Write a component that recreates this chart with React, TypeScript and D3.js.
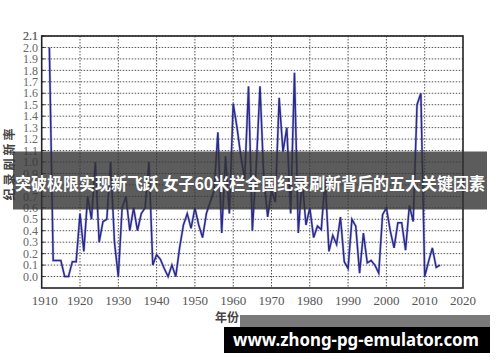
import React from "react";
import * as d3 from "d3";

const years: number[] = d3.range(1912, 2015);
const rates: number[] = [
  2.0, 0.14, 0.14, 0.14, 0.0, 0.0, 0.13, 0.13, 0.55, 0.22,
  0.7, 0.5, 1.0, 0.3, 0.48, 0.5, 1.0, 0.3, 0.0, 0.6,
  0.7, 0.4, 0.6, 0.4, 0.55, 0.6, 1.0, 0.1, 0.19, 0.15,
  0.07, 0.0, 0.1, 0.0, 0.25, 0.45, 0.55, 0.42, 0.6, 0.45,
  0.34, 0.55, 0.65, 0.75, 1.26, 0.38, 1.05, 0.55, 1.51, 1.3,
  1.05, 0.85, 1.66, 0.4, 0.95, 1.66, 0.85, 0.52, 0.75, 0.65,
  1.56, 1.09, 1.3, 0.55, 1.78, 0.38, 0.85, 0.45, 0.6, 0.34,
  0.44, 0.41, 0.85, 0.22, 0.36, 0.28, 0.52, 0.13, 0.07, 0.5,
  0.44, 0.03, 0.38, 0.12, 0.14, 0.1, 0.03, 0.54, 0.6, 0.4,
  0.25, 0.47, 0.47, 0.23, 0.62, 0.48, 1.5, 1.6, 0.0, 0.13,
  0.25, 0.08, 0.1,
];
const xTicks: number[] = [1910, 1920, 1930, 1940, 1950, 1960, 1970, 1980, 1990, 2000, 2010, 2020];
const yTicks: number[] = d3.range(0, 22).map((i) => Math.round(i) / 10);
const yTitle = "纪录刷新率";
const xTitle = "年份";
const headline = "突破极限实现新飞跃 女子60米栏全国纪录刷新背后的五大关键因素";
const siteText = "www.zhong-pg-emulator.com";

export default function App() {
  const left = 41.7, right = 463, top = 36, bottom = 288;
  const x = d3.scaleLinear().domain([1910, 2020]).range([left, right]);
  const y = d3.scaleLinear().domain([-0.1, 2.1]).range([bottom, top]);
  const pts = years.map((yr, i) => [yr, rates[i]] as [number, number]);
  const line = d3
    .line<[number, number]>()
    .x((d) => x(d[0]))
    .y((d) => y(d[1]));
  const serif = "'Liberation Serif', 'DejaVu Serif', serif";
  const cjk = "'Noto Sans CJK SC', sans-serif";
  return (
    <svg
      width={500}
      height={362}
      style={{ position: "absolute", left: 0, top: 0, background: "#fff" }}
    >
      <rect x={0} y={0} width={500} height={362} fill="#fff" />
      {yTicks.map((t) => (
        <line
          key={"gy" + t}
          x1={left}
          x2={right}
          y1={y(t)}
          y2={y(t)}
          stroke="#555"
          strokeWidth={1}
          strokeDasharray="1.5,1.5"
        />
      ))}
      {xTicks.slice(1, -1).map((t) => (
        <line
          key={"gx" + t}
          x1={x(t)}
          x2={x(t)}
          y1={top}
          y2={bottom}
          stroke="#555"
          strokeWidth={1}
          strokeDasharray="1.5,1.5"
        />
      ))}
      {yTicks.map((t) => (
        <line key={"ty" + t} x1={left} x2={left + 3} y1={y(t)} y2={y(t)} stroke="#222" strokeWidth={1} />
      ))}
      <path d={line(pts) || ""} fill="none" stroke="#8a8ad8" strokeWidth={2.6} opacity={0.5} />
      <path d={line(pts) || ""} fill="none" stroke="#2a2a8a" strokeWidth={1.5} />
      <rect x={left} y={top} width={right - left} height={bottom - top} fill="none" stroke="#222" strokeWidth={1.6} />
      {yTicks.concat([2.1]).map((t) => (
        <text
          key={"ly" + t}
          x={38}
          y={y(t)}
          dy="0.35em"
          textAnchor="end"
          fontFamily={serif}
          fontSize={12}
          fill="#666"
        >
          {t.toFixed(1)}
        </text>
      ))}
      {xTicks.map((t) => (
        <text
          key={"lx" + t}
          x={x(t) + (t === 1910 ? 3 : 0)}
          y={305}
          textAnchor="middle"
          fontFamily={serif}
          fontSize={13}
          fill="#555"
        >
          {t}
        </text>
      ))}
      <text
        transform={`translate(13.5,163) rotate(-90)`}
        textAnchor="middle"
        fontFamily={cjk}
        fontSize={12}
        fontWeight="bold"
        letterSpacing={3}
        fill="#444"
      >
        {yTitle}
      </text>
      <text x={227} y={322} textAnchor="middle" fontFamily={cjk} fontSize={12} fontWeight="bold" fill="#444">
        {xTitle}
      </text>
      <rect x={13} y={151.5} width={474} height={58} fill="#333" opacity={0.8} />
      <text
        x={250}
        y={189.5}
        textAnchor="middle"
        fontFamily={cjk}
        fontSize={16.5}
        fontWeight="bold"
        fill="#fff"
        textLength={470}
        lengthAdjust="spacingAndGlyphs"
      >
        {headline}
      </text>
      <rect x={240} y={315} width={250} height={12} fill="#7a7a7a" />
      <rect x={224} y={327} width={266} height={26} fill="#000" />
      <text
        x={233}
        y={346}
        fontFamily="'Noto Sans', 'Open Sans', sans-serif"
        fontSize={17}
        fontWeight="bold"
        fill="#fff"
        textLength={246}
        lengthAdjust="spacingAndGlyphs"
      >
        {siteText}
      </text>
    </svg>
  );
}
